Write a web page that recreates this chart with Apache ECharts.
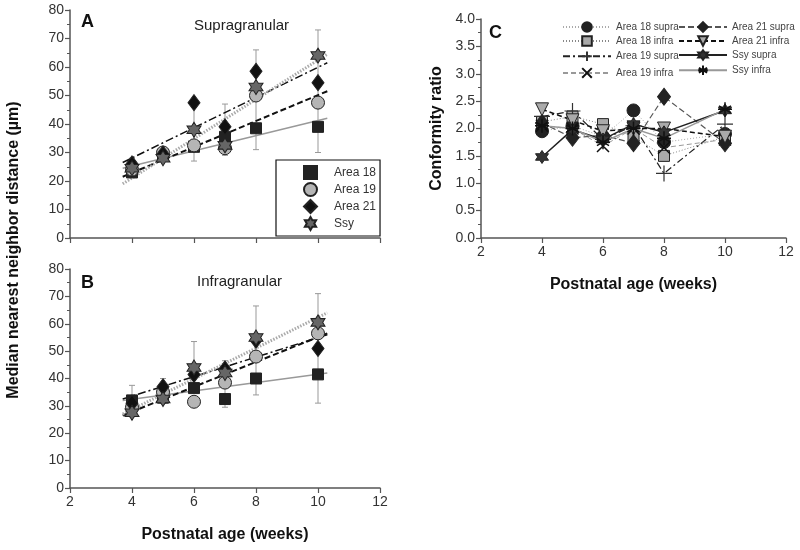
<!DOCTYPE html>
<html>
<head>
<meta charset="utf-8">
<script src="https://cdn.jsdelivr.net/npm/echarts@6/dist/echarts.min.js"></script>
<style>
  html, body { margin: 0; padding: 0; background: #fff; }
  #chart { width: 800px; height: 550px; }
</style>
</head>
<body>
<div id="chart"></div>
<script>
// 周龄
var weeks = [4, 5, 6, 7, 8, 10];
var fitX = [3.7, 10.3];

// A: Supragranular
var supA18 = [23, 29, 32, 35.5, 38.5, 39];
var supA19 = [24, 30, 32.5, 31.5, 50, 47.5];
var supA21 = [26, 29.5, 47.5, 39, 58.5, 54.5];
var supSsy = [24.5, 28, 38, 32.5, 53, 64];
var supErrLow = [22, 27, 27, 29, 31, 30];
var supErrHigh = [28, 32, 47, 47, 66, 73];
var supFitA18 = [24.5, 42];
var supFitA19 = [21.5, 51.5];
var supFitA21 = [26.5, 61.5];
var supFitSsy = [19, 64.5];

// B: Infragranular
var infA18 = [32, 33, 36.5, 32.5, 40, 41.5];
var infA19 = [29.5, 35, 31.5, 38.5, 48, 56.5];
var infA21 = [31, 37, 41.5, 43.5, 54, 51];
var infSsy = [27.5, 32.5, 44, 42, 55, 60.5];
var infErrLow = [26, 31, 36, 29.5, 34, 31];
var infErrHigh = [37.5, 40, 53.5, 46.5, 66.5, 71];
var infFitA18 = [32, 42];
var infFitA19 = [26.5, 56.5];
var infFitA21 = [32.5, 56];
var infFitSsy = [27, 64];

// C: Conformity ratio
var crA18supra = [1.95, 2.05, 1.85, 2.33, 1.75, 1.9];
var crA18infra = [2.12, 2.22, 2.08, 1.85, 1.5, 1.85];
var crA19supra = [2.22, 2.32, 1.8, 2.05, 1.18, 2.08];
var crA19infra = [2.05, 2.0, 1.68, 2.0, 1.65, 1.8];
var crA21supra = [2.1, 1.83, 1.88, 1.73, 2.58, 1.73];
var crA21infra = [2.35, 2.15, 1.95, 2.0, 2.0, 1.85];
var crSsySupra = [1.48, 1.98, 1.8, 2.08, 1.93, 2.33];
var crSsyInfra = [2.05, 2.0, 1.75, 2.0, 1.82, 2.35];

var yTicksAB = { min: 0, max: 80, interval: 10 };
var yTicksC = { min: 0, max: 4, interval: 0.5 };
var xTicks = { min: 2, max: 12, interval: 2 };

var FONT = 'Liberation Sans, Arial, sans-serif';
var STAR = 'path://M10,0 L12.9,5 L18.66,5 L15.77,10 L18.66,15 L12.9,15 L10,20 L7.1,15 L1.34,15 L4.23,10 L1.34,5 L7.1,5 Z';
var ASTER = 'path://M10,0 L10,20 M1.34,5 L18.66,15 M1.34,15 L18.66,5 M0,10 L20,10';
var PLUS = 'path://M10,0 L10,20 M0,10 L20,10';
var CROSS = 'path://M2,2 L18,18 M2,18 L18,2';

function pairs(xs, ys) {
    return xs.map(function (x, i) { return [x, ys[i]]; });
}
function errData(lo, hi) {
    return weeks.map(function (x, i) { return [x, lo[i], hi[i]]; });
}

function xAxisCfg(grid, showLabel) {
    return {
        gridIndex: grid, type: 'value', min: xTicks.min, max: xTicks.max, interval: xTicks.interval,
        name: showLabel ? 'Postnatal age (weeks)' : '', nameLocation: 'middle', nameGap: 39,
        nameTextStyle: { fontFamily: FONT, fontWeight: 'bold', fontSize: 16, color: '#111' },
        axisLine: { lineStyle: { color: '#555', width: 1.5 } },
        axisTick: { length: 5, lineStyle: { color: '#555', width: 1.2 } },
        axisLabel: { show: showLabel, color: '#333', fontSize: 14, fontFamily: FONT, margin: 7 },
        splitLine: { show: false }
    };
}
function yAxisCfg(grid, t, name, fmt) {
    return {
        gridIndex: grid, type: 'value', min: t.min, max: t.max, interval: t.interval,
        name: name, nameLocation: 'middle', nameGap: 36,
        nameTextStyle: { fontFamily: FONT, fontWeight: 'bold', fontSize: 16, color: '#111' },
        axisLine: { show: true, lineStyle: { color: '#555', width: 1.5 } },
        axisTick: { show: true, length: 5, lineStyle: { color: '#555', width: 1.2 } },
        minorTick: { show: true, splitNumber: 2, length: 3, lineStyle: { color: '#555' } },
        axisLabel: { color: '#333', fontSize: 14, fontFamily: FONT, margin: 6, formatter: fmt },
        splitLine: { show: false }
    };
}

function errSeries(idx, lo, hi) {
    return {
        type: 'custom', xAxisIndex: idx, yAxisIndex: idx, z: 1, silent: true,
        data: errData(lo, hi),
        encode: { x: 0, y: [1, 2] },
        renderItem: function (params, api) {
            var x = api.value(0);
            var p1 = api.coord([x, api.value(1)]);
            var p2 = api.coord([x, api.value(2)]);
            var st = { stroke: '#999', lineWidth: 1 };
            return {
                type: 'group',
                children: [
                    { type: 'line', shape: { x1: p1[0], y1: p1[1], x2: p2[0], y2: p2[1] }, style: st },
                    { type: 'line', shape: { x1: p1[0] - 3, y1: p1[1], x2: p1[0] + 3, y2: p1[1] }, style: st },
                    { type: 'line', shape: { x1: p2[0] - 3, y1: p2[1], x2: p2[0] + 3, y2: p2[1] }, style: st }
                ]
            };
        }
    };
}
function fitSeries(idx, vals, ls) {
    return {
        type: 'line', xAxisIndex: idx, yAxisIndex: idx, z: 2, silent: true, symbol: 'none',
        data: pairs(fitX, vals), lineStyle: ls
    };
}
function ptSeries(idx, name, vals, symbol, size, fill) {
    return {
        type: 'scatter', name: name, xAxisIndex: idx, yAxisIndex: idx, z: 3,
        symbol: symbol, symbolSize: size, data: pairs(weeks, vals),
        itemStyle: { color: fill, borderColor: '#222', borderWidth: 1, opacity: 1 }
    };
}

var lsA18 = { color: '#999', width: 1.5, type: 'solid' };
var lsA19 = { color: '#111', width: 2, type: [6, 3] };
var lsA21 = { color: '#111', width: 1.5, type: [8, 3, 2, 3] };
var lsSsy = { color: '#aaa', width: 3, type: [1.5, 1.5] };

function panelSeries(idx, d) {
    return [
        errSeries(idx, d.lo, d.hi),
        fitSeries(idx, d.f18, lsA18),
        fitSeries(idx, d.f19, lsA19),
        fitSeries(idx, d.f21, lsA21),
        fitSeries(idx, d.fS, lsSsy),
        ptSeries(idx, 'Area 18', d.a18, 'rect', 11, '#222'),
        ptSeries(idx, 'Area 19', d.a19, 'circle', 13, '#b5b5b5'),
        ptSeries(idx, 'Area 21', d.a21, 'diamond', [12, 16], '#111'),
        ptSeries(idx, 'Ssy', d.ssy, STAR, [14, 15], '#666')
    ];
}

function crSeries(name, vals, symbol, size, fill, border, bw, ls, rot) {
    return {
        type: 'line', name: name, xAxisIndex: 2, yAxisIndex: 2,
        data: pairs(weeks, vals), symbol: symbol, symbolSize: size, symbolRotate: rot || 0,
        showAllSymbol: true,
        itemStyle: { color: fill, borderColor: border, borderWidth: bw },
        lineStyle: ls
    };
}

var series = [].concat(
    panelSeries(0, { lo: supErrLow, hi: supErrHigh, f18: supFitA18, f19: supFitA19, f21: supFitA21, fS: supFitSsy,
        a18: supA18, a19: supA19, a21: supA21, ssy: supSsy }),
    panelSeries(1, { lo: infErrLow, hi: infErrHigh, f18: infFitA18, f19: infFitA19, f21: infFitA21, fS: infFitSsy,
        a18: infA18, a19: infA19, a21: infA21, ssy: infSsy }),
    [
        crSeries('Area 18 supra', crA18supra, 'circle', 13, '#222', '#222', 1, { color: '#aaa', width: 1, type: [1, 2] }),
        crSeries('Area 18 infra', crA18infra, 'rect', 11, '#aaa', '#222', 1, { color: '#888', width: 1, type: [1, 2] }),
        crSeries('Area 19 supra', crA19supra, PLUS, 16, 'none', '#333', 1.2, { color: '#222', width: 1.2, type: [7, 3, 2, 3] }),
        crSeries('Area 19 infra', crA19infra, CROSS, 12, 'none', '#111', 1.5, { color: '#999', width: 1, type: [5, 3] }),
        crSeries('Area 21 supra', crA21supra, 'diamond', [13, 17], '#222', '#222', 1, { color: '#555', width: 1.2, type: [6, 3] }),
        crSeries('Area 21 infra', crA21infra, 'triangle', 13, '#aaa', '#222', 1, { color: '#111', width: 1.5, type: [5, 3] }, 180),
        crSeries('Ssy supra', crSsySupra, STAR, 13, '#333', '#222', 1, { color: '#222', width: 1.5 }),
        crSeries('Ssy infra', crSsyInfra, ASTER, 14, 'none', '#111', 1.5, { color: '#999', width: 1.5 })
    ]
);

var chart = echarts.init(document.getElementById('chart'), null, { renderer: 'canvas' });
chart.setOption({
    animation: false,
    backgroundColor: '#fff',
    textStyle: { fontFamily: FONT },
    grid: [
        { left: 70, top: 10, width: 310, height: 228 },
        { left: 70, top: 269, width: 310, height: 219 },
        { left: 481, top: 19, width: 305, height: 219 }
    ],
    xAxis: [xAxisCfg(0, false), xAxisCfg(1, true), xAxisCfg(2, true)],
    yAxis: [
        yAxisCfg(0, yTicksAB, ''),
        yAxisCfg(1, yTicksAB, ''),
        yAxisCfg(2, yTicksC, 'Conformity ratio', function (v) { return v.toFixed(1); })
    ],
    legend: [
        {
            data: ['Area 18', 'Area 19', 'Area 21', 'Ssy'],
            orient: 'vertical', left: 276, top: 160,
            padding: [5, 4, 5, 27], itemGap: 2, itemWidth: 13, itemHeight: 13,
            borderColor: '#111', borderWidth: 1.2, selectedMode: false,
            textStyle: { fontSize: 12, lineHeight: 13, color: '#333', padding: [0, 0, 0, 12] }
        },
        {
            data: ['Area 18 supra', 'Area 18 infra', 'Area 19 supra', 'Area 19 infra'],
            orient: 'vertical', left: 562, top: 21, padding: 0, itemGap: 2,
            itemWidth: 48, itemHeight: 12, selectedMode: false,
            textStyle: { fontSize: 10, lineHeight: 12, color: '#444' }
        },
        {
            data: ['Area 21 supra', 'Area 21 infra', 'Ssy supra', 'Ssy infra'],
            orient: 'vertical', left: 678, top: 21, padding: 0, itemGap: 2,
            itemWidth: 48, itemHeight: 12, selectedMode: false,
            textStyle: { fontSize: 10, lineHeight: 12, color: '#444' }
        }
    ],
    graphic: [
        { type: 'text', left: 81, top: 13, style: { text: 'A', font: 'bold 18px ' + FONT, fill: '#111' } },
        { type: 'text', left: 81, top: 274, style: { text: 'B', font: 'bold 18px ' + FONT, fill: '#111' } },
        { type: 'text', left: 489, top: 24, style: { text: 'C', font: 'bold 18px ' + FONT, fill: '#111' } },
        { type: 'text', left: 194, top: 18, style: { text: 'Supragranular', font: '15px ' + FONT, fill: '#222' } },
        { type: 'text', left: 197, top: 274, style: { text: 'Infragranular', font: '15px ' + FONT, fill: '#222' } },
        {
            type: 'text', x: 6, y: 250, rotation: Math.PI / 2,
            style: { text: 'Median nearest neighbor distance (\u00b5m)', font: 'bold 16px ' + FONT, fill: '#111',
                align: 'center', verticalAlign: 'top' }
        }
    ],
    series: series
});
</script>
</body>
</html>
